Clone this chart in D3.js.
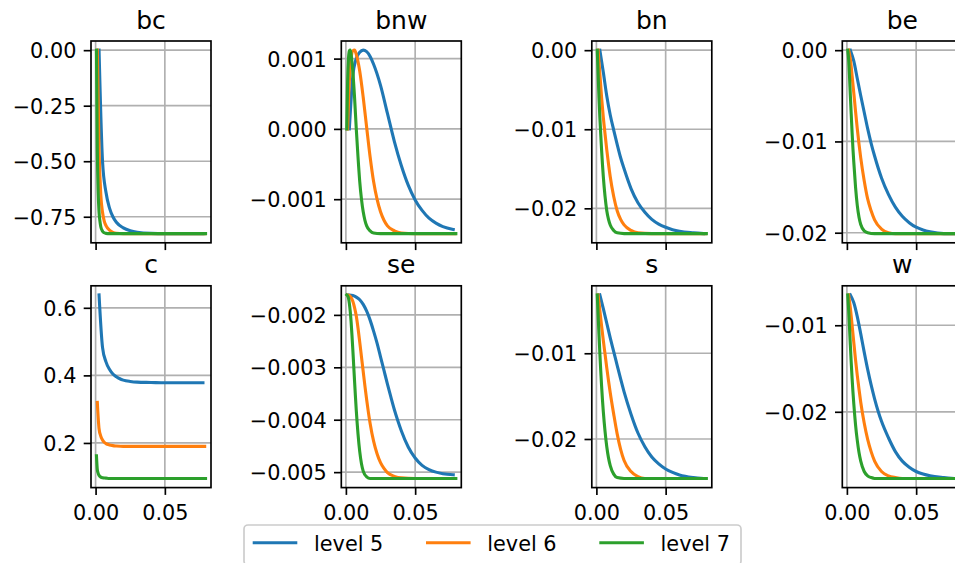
<!DOCTYPE html>
<html>
<head>
<meta charset="utf-8">
<script src="https://cdn.jsdelivr.net/npm/d3@7"></script>
<style>
  body { margin: 0; background: #fff; }
  svg { display: block; font-family: "DejaVu Sans", sans-serif; }
</style>
</head>
<body>
<div id="app"></div>
<script>
const levels = ["level 5", "level 6", "level 7"];
const colors = ["#1f77b4", "#ff7f0e", "#2ca02c"];
const titles = ["bc", "bnw", "bn", "be", "c", "se", "s", "w"];
const xTicks = [0, 0.05];

// bc
const bcLevel5 = [[0.0025, 0], [0.005, -0.5], [0.0075, -0.64], [0.01, -0.71], [0.0125, -0.75], [0.015, -0.775], [0.02, -0.8], [0.025, -0.813], [0.03, -0.82], [0.04, -0.825], [0.05, -0.826], [0.0775, -0.826]];
const bcLevel6 = [[0.00125, 0], [0.0025, -0.45], [0.00375, -0.65], [0.005, -0.73], [0.00625, -0.77], [0.0075, -0.79], [0.01, -0.81], [0.0125, -0.82], [0.015, -0.824], [0.02, -0.826], [0.07875, -0.826]];
const bcLevel7 = [[0.000625, 0], [0.00125, -0.45], [0.001875, -0.64], [0.0025, -0.73], [0.003125, -0.77], [0.00375, -0.795], [0.005, -0.815], [0.00625, -0.822], [0.0075, -0.825], [0.01, -0.826], [0.079375, -0.826]];
const bcTicks = [0, -0.25, -0.5, -0.75];

// bnw
const bnwLevel5 = [[0.0025, 0], [0.005, 0.00075], [0.0075, 0.001], [0.01, 0.00109], [0.0125, 0.00112], [0.015, 0.0011], [0.0175, 0.00103], [0.02, 0.00092], [0.025, 0.00062], [0.03, 0.00022], [0.035, -0.00018], [0.04, -0.00052], [0.045, -0.0008], [0.05, -0.00101], [0.055, -0.00116], [0.06, -0.00127], [0.065, -0.00134], [0.07, -0.00139], [0.0775, -0.00143]];
const bnwLevel6 = [[0.00125, 0], [0.0025, 0.00068], [0.00375, 0.001], [0.005, 0.00111], [0.00625, 0.00112], [0.0075, 0.00106], [0.01, 0.00082], [0.0125, 0.00045], [0.015, 0.00002], [0.0175, -0.0004], [0.02, -0.00075], [0.0225, -0.001], [0.025, -0.00118], [0.0275, -0.0013], [0.03, -0.00138], [0.035, -0.00145], [0.04, -0.00148], [0.05, -0.00149], [0.07875, -0.00149]];
const bnwLevel7 = [[0.000625, 0], [0.00125, 0.00068], [0.001875, 0.001], [0.0025, 0.00111], [0.003125, 0.00112], [0.00375, 0.00106], [0.005, 0.00082], [0.00625, 0.00045], [0.0075, 0], [0.00875, -0.0004], [0.01, -0.00075], [0.01125, -0.001], [0.0125, -0.00118], [0.01375, -0.0013], [0.015, -0.00138], [0.0175, -0.00145], [0.02, -0.00148], [0.025, -0.00149], [0.079375, -0.00149]];
const bnwTicks = [0.001, 0, -0.001];

// bn
const bnLevel5 = [[0.0025, 0], [0.005, -0.0028], [0.0075, -0.0058], [0.01, -0.0082], [0.0125, -0.0101], [0.015, -0.0119], [0.0175, -0.0136], [0.02, -0.015], [0.025, -0.0175], [0.03, -0.0193], [0.035, -0.0205], [0.04, -0.0214], [0.045, -0.022], [0.05, -0.0224], [0.055, -0.0227], [0.06, -0.0229], [0.07, -0.0231], [0.0775, -0.0232]];
const bnLevel6 = [[0.00125, 0], [0.0025, -0.003], [0.00375, -0.006], [0.005, -0.0085], [0.00625, -0.0106], [0.0075, -0.0126], [0.00875, -0.0144], [0.01, -0.016], [0.0125, -0.0185], [0.015, -0.0203], [0.0175, -0.0214], [0.02, -0.0221], [0.025, -0.0228], [0.03, -0.0231], [0.04, -0.0232], [0.07875, -0.0232]];
const bnLevel7 = [[0.000625, 0], [0.00125, -0.003], [0.001875, -0.006], [0.0025, -0.0085], [0.003125, -0.0106], [0.00375, -0.0126], [0.004375, -0.0144], [0.005, -0.016], [0.00625, -0.0185], [0.0075, -0.0203], [0.00875, -0.0214], [0.01, -0.0221], [0.0125, -0.0228], [0.015, -0.0231], [0.02, -0.0232], [0.079375, -0.0232]];
const bnTicks = [0, -0.01, -0.02];

// be
const beLevel5 = [[0.0025, 0], [0.005, -0.0012], [0.0075, -0.0031], [0.01, -0.005], [0.0125, -0.0068], [0.015, -0.0086], [0.0175, -0.0102], [0.02, -0.0116], [0.025, -0.014], [0.03, -0.0158], [0.035, -0.0172], [0.04, -0.0182], [0.045, -0.0189], [0.05, -0.0194], [0.055, -0.0197], [0.06, -0.0199], [0.07, -0.0201], [0.0775, -0.0201]];
const beLevel6 = [[0.00125, 0], [0.0025, -0.001], [0.00375, -0.0028], [0.005, -0.0047], [0.00625, -0.0067], [0.0075, -0.0086], [0.00875, -0.0103], [0.01, -0.0118], [0.0125, -0.0143], [0.015, -0.0163], [0.0175, -0.0176], [0.02, -0.0186], [0.025, -0.0196], [0.03, -0.02], [0.035, -0.0201], [0.07875, -0.0201]];
const beLevel7 = [[0.000625, 0], [0.00125, -0.001], [0.001875, -0.0028], [0.0025, -0.005], [0.003125, -0.007], [0.00375, -0.009], [0.004375, -0.0108], [0.005, -0.0123], [0.00625, -0.015], [0.0075, -0.017], [0.00875, -0.0183], [0.01, -0.0191], [0.0125, -0.0198], [0.015, -0.02], [0.02, -0.0201], [0.079375, -0.0201]];
const beTicks = [0, -0.01, -0.02];

// c
const cLevel5 = [[0.0025, 0.638], [0.005, 0.483], [0.0075, 0.44], [0.01, 0.418], [0.0125, 0.404], [0.015, 0.396], [0.0175, 0.39], [0.02, 0.386], [0.025, 0.382], [0.03, 0.38], [0.04, 0.379], [0.05, 0.378], [0.0775, 0.378]];
const cLevel6 = [[0.00125, 0.32], [0.0025, 0.242], [0.00375, 0.22], [0.005, 0.209], [0.00625, 0.202], [0.0075, 0.198], [0.01, 0.194], [0.0125, 0.192], [0.015, 0.191], [0.02, 0.19], [0.07875, 0.19]];
const cLevel7 = [[0.000625, 0.162], [0.00125, 0.121], [0.001875, 0.11], [0.0025, 0.104], [0.003125, 0.101], [0.00375, 0.099], [0.005, 0.097], [0.0075, 0.096], [0.01, 0.095], [0.079375, 0.095]];
const cTicks = [0.2, 0.4, 0.6];

// se
const seLevel5 = [[0.0025, -0.00162], [0.005, -0.00163], [0.0075, -0.00166], [0.01, -0.00171], [0.0125, -0.0018], [0.015, -0.00193], [0.0175, -0.0021], [0.02, -0.00231], [0.0225, -0.00254], [0.025, -0.0028], [0.0275, -0.00306], [0.03, -0.00332], [0.0325, -0.00357], [0.035, -0.00381], [0.0375, -0.00402], [0.04, -0.00421], [0.045, -0.00452], [0.05, -0.00473], [0.055, -0.00487], [0.06, -0.00495], [0.065, -0.005], [0.07, -0.00503], [0.0775, -0.00505]];
const seLevel6 = [[0.00125, -0.00162], [0.0025, -0.00163], [0.00375, -0.00167], [0.005, -0.00174], [0.00625, -0.00186], [0.0075, -0.00202], [0.00875, -0.00225], [0.01, -0.00252], [0.01125, -0.0028], [0.0125, -0.00308], [0.01375, -0.00336], [0.015, -0.00362], [0.01625, -0.00386], [0.0175, -0.00407], [0.02, -0.00441], [0.0225, -0.00465], [0.025, -0.00482], [0.0275, -0.00493], [0.03, -0.00501], [0.035, -0.00508], [0.04, -0.00511], [0.05, -0.00512], [0.07875, -0.00512]];
const seLevel7 = [[0.000625, -0.00162], [0.00125, -0.00164], [0.001875, -0.00168], [0.0025, -0.00178], [0.003125, -0.00193], [0.00375, -0.00213], [0.004375, -0.00238], [0.005, -0.00266], [0.005625, -0.00296], [0.00625, -0.00326], [0.006875, -0.00355], [0.0075, -0.00382], [0.008125, -0.00406], [0.00875, -0.00427], [0.01, -0.00461], [0.01125, -0.00484], [0.0125, -0.00498], [0.015, -0.00509], [0.0175, -0.00512], [0.079375, -0.00512]];
const seTicks = [-0.002, -0.003, -0.004, -0.005];

// s
const sLevel5 = [[0.0025, -0.0032], [0.005, -0.0048], [0.0075, -0.0065], [0.01, -0.0082], [0.0125, -0.0098], [0.015, -0.0114], [0.0175, -0.013], [0.02, -0.0145], [0.025, -0.0171], [0.03, -0.0193], [0.035, -0.0209], [0.04, -0.0221], [0.045, -0.0229], [0.05, -0.0235], [0.055, -0.0239], [0.06, -0.0242], [0.07, -0.0245], [0.0775, -0.0246]];
const sLevel6 = [[0.00125, -0.0032], [0.0025, -0.005], [0.00375, -0.0068], [0.005, -0.0085], [0.00625, -0.0101], [0.0075, -0.0117], [0.00875, -0.0132], [0.01, -0.0146], [0.0125, -0.0171], [0.015, -0.0194], [0.0175, -0.0212], [0.02, -0.0225], [0.025, -0.0238], [0.03, -0.0244], [0.035, -0.0246], [0.07875, -0.0246]];
const sLevel7 = [[0.000625, -0.0032], [0.00125, -0.0055], [0.001875, -0.0078], [0.0025, -0.01], [0.003125, -0.012], [0.00375, -0.0138], [0.004375, -0.0154], [0.005, -0.0168], [0.00625, -0.0191], [0.0075, -0.0209], [0.00875, -0.0222], [0.01, -0.0231], [0.0125, -0.0241], [0.015, -0.0245], [0.02, -0.0246], [0.079375, -0.0246]];
const sTicks = [-0.01, -0.02];

// w
const wLevel5 = [[0.0025, -0.0065], [0.005, -0.0074], [0.0075, -0.009], [0.01, -0.011], [0.0125, -0.0131], [0.015, -0.0151], [0.0175, -0.0169], [0.02, -0.0185], [0.0225, -0.0199], [0.025, -0.0211], [0.03, -0.023], [0.035, -0.0246], [0.04, -0.0257], [0.045, -0.0264], [0.05, -0.0269], [0.055, -0.0272], [0.06, -0.0274], [0.07, -0.0276], [0.0775, -0.0277]];
const wLevel6 = [[0.00125, -0.0065], [0.0025, -0.008], [0.00375, -0.01], [0.005, -0.012], [0.00625, -0.014], [0.0075, -0.0158], [0.00875, -0.0174], [0.01, -0.0189], [0.0125, -0.0213], [0.015, -0.0232], [0.0175, -0.0246], [0.02, -0.0257], [0.025, -0.0269], [0.03, -0.0274], [0.035, -0.0276], [0.04, -0.0277], [0.07875, -0.0277]];
const wLevel7 = [[0.000625, -0.0065], [0.00125, -0.0082], [0.001875, -0.0102], [0.0025, -0.0123], [0.003125, -0.0143], [0.00375, -0.0161], [0.004375, -0.0177], [0.005, -0.0191], [0.00625, -0.0215], [0.0075, -0.0233], [0.00875, -0.0247], [0.01, -0.0257], [0.0125, -0.0269], [0.015, -0.0274], [0.0175, -0.0276], [0.02, -0.0277], [0.079375, -0.0277]];
const wTicks = [-0.01, -0.02];

const panels = [
  { series: [bcLevel5, bcLevel6, bcLevel7], ticks: bcTicks, fmt: ".2f" },
  { series: [bnwLevel5, bnwLevel6, bnwLevel7], ticks: bnwTicks, fmt: ".3f" },
  { series: [bnLevel5, bnLevel6, bnLevel7], ticks: bnTicks, fmt: ".2f" },
  { series: [beLevel5, beLevel6, beLevel7], ticks: beTicks, fmt: ".2f" },
  { series: [cLevel5, cLevel6, cLevel7], ticks: cTicks, fmt: ".1f" },
  { series: [seLevel5, seLevel6, seLevel7], ticks: seTicks, fmt: ".3f" },
  { series: [sLevel5, sLevel6, sLevel7], ticks: sTicks, fmt: ".2f" },
  { series: [wLevel5, wLevel6, wLevel7], ticks: wTicks, fmt: ".2f" }
];

const width = 955;
const height = 563;
const axW = 120;
const axH = 201.8;
const colLeft = [91, 341.3, 591.8, 842.3];
const rowTop = [41, 285.8];
const lw = 1.67;
const tickLen = 7.3;
const tickFont = 20.8;

const svg = d3
  .select("#app")
  .append("svg")
  .attr("width", width)
  .attr("height", height);

// matplotlib style 5% margins
const padded = (vals) => {
  const [lo, hi] = d3.extent(vals);
  const m = (hi - lo) * 0.05;
  return [lo - m, hi + m];
};

panels.forEach((p, i) => {
  const col = i % 4;
  const row = Math.floor(i / 4);
  const all = p.series.flat();

  const x = d3.scaleLinear().domain(padded(all.map((d) => d[0]))).range([0, axW]);
  const y = d3.scaleLinear().domain(padded(all.map((d) => d[1]))).range([axH, 0]);

  const g = svg
    .append("g")
    .attr("transform", `translate(${colLeft[col]}, ${rowTop[row]})`);

  // grid
  g.append("g")
    .selectAll("line")
    .data(xTicks)
    .join("line")
    .attr("x1", (d) => x(d))
    .attr("x2", (d) => x(d))
    .attr("y1", 0)
    .attr("y2", axH)
    .attr("stroke", "#b0b0b0")
    .attr("stroke-width", lw);
  g.append("g")
    .selectAll("line")
    .data(p.ticks)
    .join("line")
    .attr("x1", 0)
    .attr("x2", axW)
    .attr("y1", (d) => y(d))
    .attr("y2", (d) => y(d))
    .attr("stroke", "#b0b0b0")
    .attr("stroke-width", lw);

  const line = d3
    .line()
    .x((d) => x(d[0]))
    .y((d) => y(d[1]))
    .curve(d3.curveMonotoneX);

  g.append("g")
    .selectAll("path")
    .data(p.series)
    .join("path")
    .attr("d", line)
    .attr("fill", "none")
    .attr("stroke", (d, k) => colors[k])
    .attr("stroke-width", 3.1)
    .attr("stroke-linejoin", "round")
    .attr("stroke-linecap", "square");

  // frame
  g.append("rect")
    .attr("width", axW)
    .attr("height", axH)
    .attr("fill", "none")
    .attr("stroke", "#000")
    .attr("stroke-width", lw);

  const yAxis = d3
    .axisLeft(y)
    .tickValues(p.ticks)
    .tickFormat(d3.format(p.fmt))
    .tickSize(tickLen)
    .tickPadding(tickLen);
  const xAxis = d3
    .axisBottom(x)
    .tickValues(xTicks)
    .tickFormat(row === 1 ? d3.format(".2f") : () => "")
    .tickSize(tickLen)
    .tickPadding(tickLen);

  const ya = g.append("g").call(yAxis);
  const xa = g.append("g").attr("transform", `translate(0, ${axH})`).call(xAxis);

  [ya, xa].forEach((a) => {
    a.select(".domain").remove();
    a.selectAll(".tick line").attr("stroke", "#000").attr("stroke-width", lw);
    a.selectAll(".tick text")
      .attr("fill", "#000")
      .style("font-size", tickFont + "px")
      .style("font-family", "DejaVu Sans");
  });
  ya.selectAll(".tick text").attr("dy", "0.36em");
  xa.selectAll(".tick text").attr("dy", "0.84em");

  g.append("text")
    .attr("x", axW / 2)
    .attr("y", -12.5)
    .attr("text-anchor", "middle")
    .style("font-size", "25px")
    .text(titles[i]);
});

// legend
const legend = svg.append("g").attr("transform", "translate(244, 525)");

legend
  .append("rect")
  .attr("width", 497)
  .attr("height", 40)
  .attr("rx", 4)
  .attr("fill", "#fff")
  .attr("fill-opacity", 0.8)
  .attr("stroke", "#cccccc")
  .attr("stroke-width", lw);

const item = legend
  .selectAll("g.item")
  .data(levels)
  .join("g")
  .attr("class", "item")
  .attr("transform", (d, i) => `translate(${8.7 + i * 173.3}, 17.7)`);

item
  .append("line")
  .attr("x1", 0)
  .attr("x2", 44.6)
  .attr("stroke", (d, i) => colors[i])
  .attr("stroke-width", 3.1);

item
  .append("text")
  .attr("x", 61.3)
  .attr("y", 8)
  .style("font-size", "20.8px")
  .text((d) => d);
</script>
</body>
</html>
